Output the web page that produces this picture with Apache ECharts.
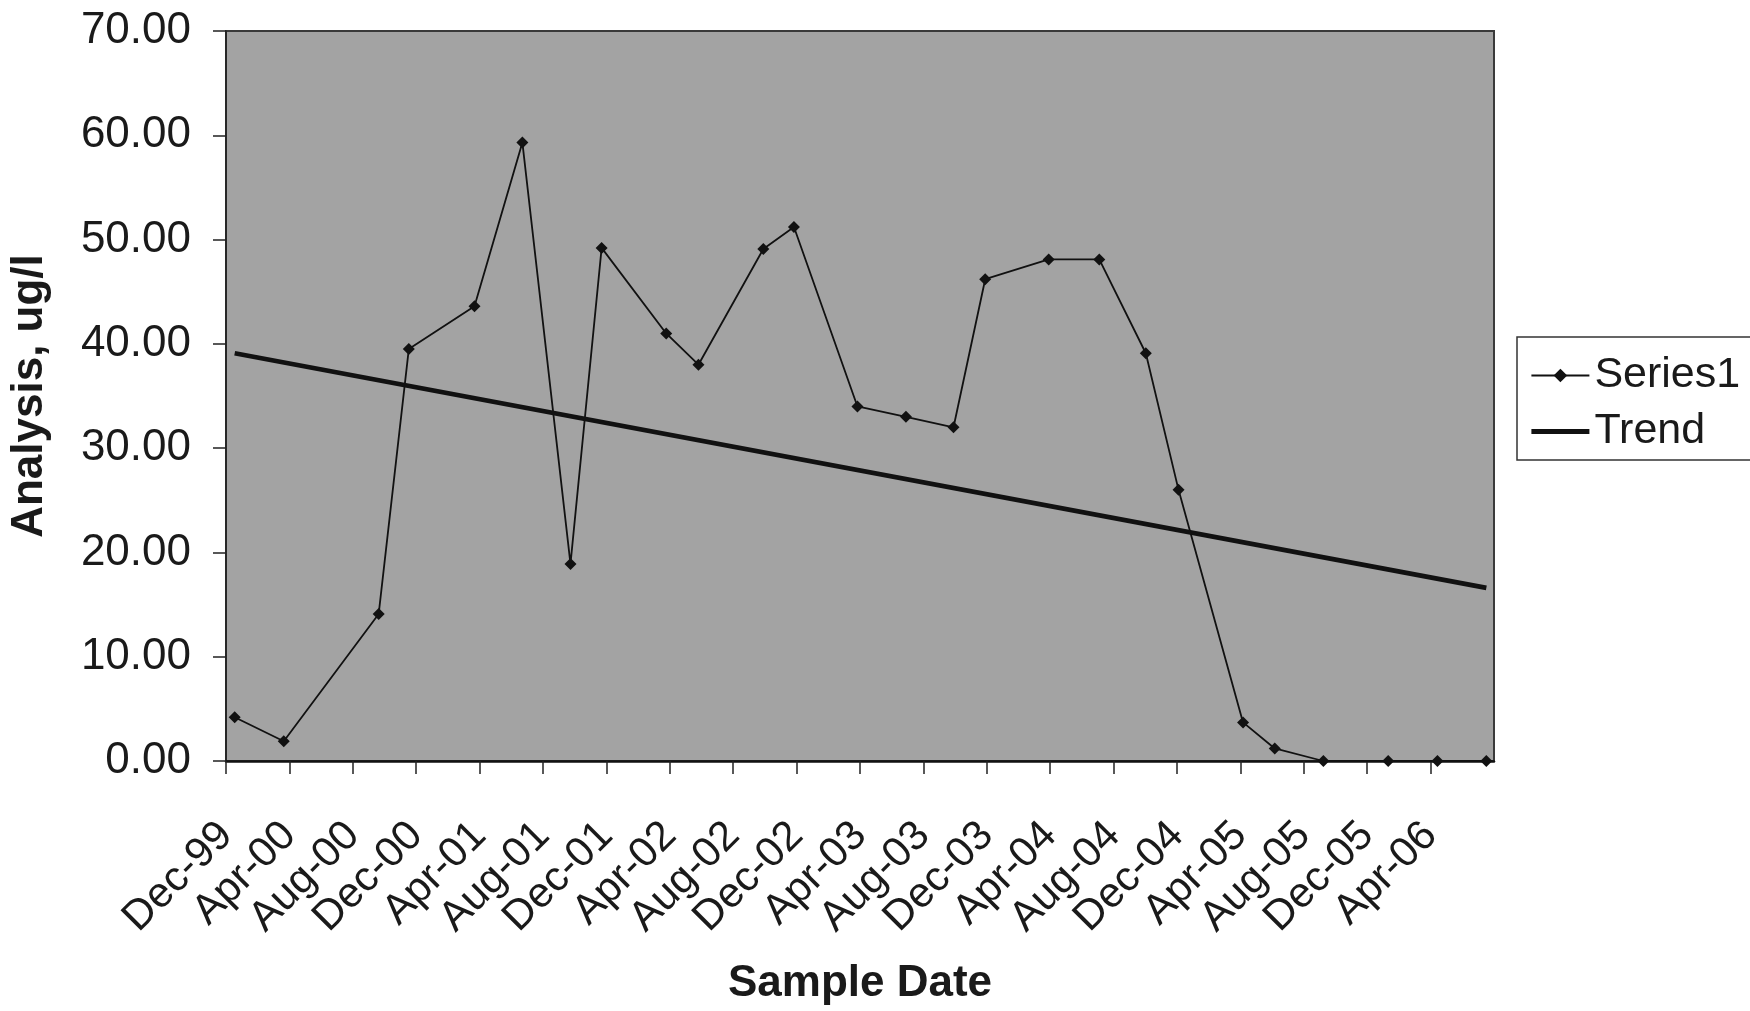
<!DOCTYPE html>
<html>
<head>
<meta charset="utf-8">
<title>Analysis vs Sample Date</title>
<script src="https://cdn.jsdelivr.net/npm/echarts@6/dist/echarts.min.js"></script>
<style>
  html, body { margin: 0; padding: 0; background: #ffffff; }
  #chart { width: 1750px; height: 1011px; }
</style>
</head>
<body>
<div id="chart"></div>
<script>
// Sample dates and measured concentrations (ug/l)
const sampleDates = [
  '1999-12-18', '2000-03-21', '2000-09-20', '2000-11-17', '2001-03-22',
  '2001-06-22', '2001-09-23', '2001-11-22', '2002-03-25', '2002-05-26',
  '2002-09-28', '2002-11-26', '2003-03-27', '2003-06-28', '2003-09-28',
  '2003-11-28', '2004-03-29', '2004-07-04', '2004-10-02', '2004-12-04',
  '2005-04-06', '2005-06-06', '2005-09-08', '2006-01-11', '2006-04-14',
  '2006-07-17'
];
const analysis = [
  4.2, 1.9, 14.1, 39.5, 43.6,
  59.3, 18.9, 49.2, 41.0, 38.0,
  49.1, 51.2, 34.0, 33.0, 32.0,
  46.2, 48.1, 48.1, 39.1, 26.0,
  3.7, 1.2, 0.0, 0.0, 0.0,
  0.0
];
// Linear trend, evaluated at the first and last sample dates
const trendValues = [39.1, 16.6];

// Date axis ticks every 4 months starting Dec 1999
const xTickLabels = [
  'Dec-99', 'Apr-00', 'Aug-00', 'Dec-00', 'Apr-01', 'Aug-01', 'Dec-01',
  'Apr-02', 'Aug-02', 'Dec-02', 'Apr-03', 'Aug-03', 'Dec-03', 'Apr-04',
  'Aug-04', 'Dec-04', 'Apr-05', 'Aug-05', 'Dec-05', 'Apr-06'
];

// Months elapsed since 1 Dec 1999 (fractional, by day of month)
function toMonths(iso) {
  const [y, m, d] = iso.split('-').map(Number);
  const daysInMonth = new Date(Date.UTC(y, m, 0)).getUTCDate();
  return (y - 1999) * 12 + (m - 12) + (d - 1) / daysInMonth;
}

const seriesData = sampleDates.map((d, i) => [toMonths(d), analysis[i]]);
const trendData = [
  [toMonths(sampleDates[0]), trendValues[0]],
  [toMonths(sampleDates[sampleDates.length - 1]), trendValues[1]]
];

const FONT = 'Liberation Sans, Arial, Helvetica, sans-serif';
const TEXT = '#1a1a1a';
const SERIES_WIDTH = 1.8;
const TREND_WIDTH = 4.8;

const chart = echarts.init(document.getElementById('chart'), null, { renderer: 'canvas' });

chart.setOption({
  animation: false,
  backgroundColor: '#ffffff',
  textStyle: { fontFamily: FONT, color: TEXT },
  grid: {
    left: 226,
    right: 256,
    top: 31,
    bottom: 249,
    show: true,
    backgroundColor: '#a3a3a3',
    borderColor: '#3a3a3a',
    borderWidth: 2
  },
  legend: {
    orient: 'vertical',
    left: 1517,
    top: 337,
    padding: [17, 40, 7, 12],
    itemGap: 13,
    itemWidth: 58,
    itemHeight: 17,
    backgroundColor: '#ffffff',
    borderColor: '#333333',
    borderWidth: 1.5,
    borderRadius: 0,
    textStyle: { fontFamily: FONT, fontSize: 43, color: TEXT },
    data: [
      { name: 'Series1', lineStyle: { width: SERIES_WIDTH } },
      { name: 'Trend', itemStyle: { opacity: 0 }, lineStyle: { width: TREND_WIDTH } }
    ]
  },
  xAxis: {
    type: 'value',
    min: 0,
    max: 80,
    interval: 4,
    name: 'Sample Date',
    nameLocation: 'middle',
    nameGap: 201,
    nameTextStyle: { fontFamily: FONT, fontSize: 44, fontWeight: 'bold', color: TEXT },
    axisLine: { show: true, onZero: false, lineStyle: { color: '#111111', width: 2.5 } },
    axisTick: { show: true, inside: false, length: 13, lineStyle: { color: '#222222', width: 1.5 } },
    axisLabel: {
      show: true,
      rotate: 45,
      margin: 68,
      fontFamily: FONT,
      fontSize: 42,
      color: TEXT,
      showMaxLabel: false,
      formatter: function (v) {
        const idx = Math.round(v / 4);
        return xTickLabels[idx] || '';
      }
    },
    splitLine: { show: false }
  },
  yAxis: {
    type: 'value',
    min: 0,
    max: 70,
    interval: 10,
    name: 'Analysis, ug/l',
    nameLocation: 'middle',
    nameGap: 174,
    nameTextStyle: { fontFamily: FONT, fontSize: 44, fontWeight: 'bold', color: TEXT },
    axisLine: { show: true, lineStyle: { color: '#222222', width: 1.5 } },
    axisTick: { show: true, inside: false, length: 13, lineStyle: { color: '#222222', width: 1.5 } },
    axisLabel: {
      margin: 35,
      fontFamily: FONT,
      fontSize: 44,
      color: TEXT,
      formatter: function (v) { return v.toFixed(2); }
    },
    splitLine: { show: false }
  },
  series: [
    {
      name: 'Series1',
      type: 'line',
      data: seriesData,
      clip: false,
      symbol: 'diamond',
      symbolSize: 12,
      showAllSymbol: true,
      itemStyle: { color: '#111111' },
      lineStyle: { color: '#111111', width: SERIES_WIDTH },
      z: 3
    },
    {
      name: 'Trend',
      type: 'line',
      data: trendData,
      symbol: 'none',
      itemStyle: { color: '#111111' },
      lineStyle: { color: '#111111', width: TREND_WIDTH },
      z: 4
    }
  ]
});
</script>
</body>
</html>
